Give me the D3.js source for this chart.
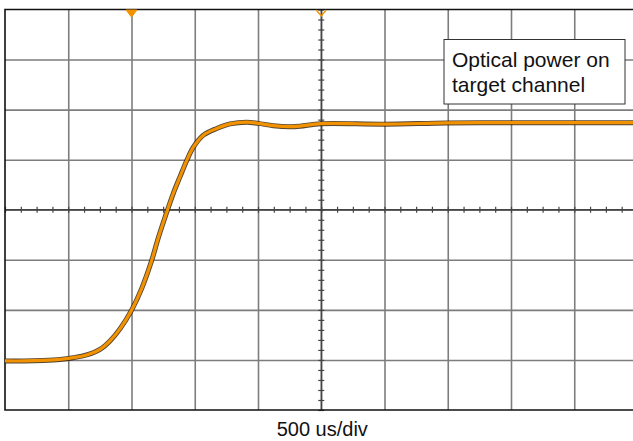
<!DOCTYPE html>
<html>
<head>
<meta charset="utf-8">
<script src="https://cdn.jsdelivr.net/npm/d3@7"></script>
<style>
body { margin: 0; background: #fff; }
svg { display: block; font-family: Arial, "Liberation Sans", sans-serif; }
</style>
</head>
<body>
<div id="chart"></div>
<script>
// trace, time in us, level in divisions from centre
const timeUs = [-2500, -2350, -2200, -2065, -1960, -1854, -1749, -1670, -1591, -1498, -1419,
    -1340, -1288, -1235, -1170, -1117, -1064, -1011, -932, -826, -721, -589, -498, -379,
    -247, -168, 0, 498, 996, 1500, 2000, 2500];
const level = [-3.02, -3.02, -3.01, -2.99, -2.955, -2.9, -2.79, -2.62, -2.38, -2.0, -1.57,
    -1.01, -0.56, -0.15, 0.324, 0.656, 0.98, 1.25, 1.49, 1.624, 1.715, 1.75, 1.725, 1.68,
    1.66, 1.67, 1.72, 1.71, 1.735, 1.74, 1.74, 1.74];

const timeDivs = [-2500, -2000, -1500, -1000, -500, 0, 500, 1000, 1500, 2000, 2500];
const levelDivs = [-4, -3, -2, -1, 0, 1, 2, 3, 4];
const triggerMarks = [{ t: -1500, filled: true }, { t: 0, filled: false }];
const legendLines = ["Optical power on", "target channel"];
const timebaseLabel = "500 us/div";

const svgWidth = 633;
const svgHeight = 441;
const margin = { left: 5, top: 9.5 };
const plotW = 632.5;
const plotH = 400.5;
const traceColor = "#f39200";

const svg = d3.select("#chart")
    .append("svg")
    .attr("width", svgWidth)
    .attr("height", svgHeight);

const g = svg.append("g")
    .attr("transform", `translate(${margin.left},${margin.top})`);

const x = d3.scaleLinear().domain([-2500, 2500]).range([0, plotW]);
const y = d3.scaleLinear().domain([-4, 4]).range([plotH, 0]);

// grid
g.append("g")
    .attr("class", "grid-x")
    .attr("transform", `translate(0,${plotH})`)
    .call(d3.axisBottom(x).tickValues(timeDivs.slice(1, -1)).tickSize(-plotH).tickFormat(""))
    .call(s => s.select(".domain").remove())
    .call(s => s.selectAll("line").attr("stroke", "#7d7d7d").attr("stroke-width", 1.6));

g.append("g")
    .attr("class", "grid-y")
    .call(d3.axisLeft(y).tickValues(levelDivs.slice(1, -1)).tickSize(-plotW).tickFormat(""))
    .call(s => s.select(".domain").remove())
    .call(s => s.selectAll("line").attr("stroke", "#7d7d7d").attr("stroke-width", 1.6));

// centre lines with minor ticks
const minorT = d3.range(-2500, 2501, 125);
const minorV = d3.range(-4, 4.001, 0.2);

g.append("line")
    .attr("x1", 0).attr("x2", plotW)
    .attr("y1", y(0)).attr("y2", y(0))
    .attr("stroke", "#444").attr("stroke-width", 1.4);
g.append("line")
    .attr("x1", x(0)).attr("x2", x(0))
    .attr("y1", 0).attr("y2", plotH)
    .attr("stroke", "#444").attr("stroke-width", 1.4);

[d3.axisTop, d3.axisBottom].forEach(ax => {
    g.append("g")
        .attr("transform", `translate(0,${y(0)})`)
        .call(ax(x).tickValues(minorT).tickSize(3).tickFormat(""))
        .call(s => s.select(".domain").remove())
        .call(s => s.selectAll("line").attr("stroke", "#444").attr("stroke-width", 1.2));
});
[d3.axisLeft, d3.axisRight].forEach(ax => {
    g.append("g")
        .attr("transform", `translate(${x(0)},0)`)
        .call(ax(y).tickValues(minorV).tickSize(3).tickFormat(""))
        .call(s => s.select(".domain").remove())
        .call(s => s.selectAll("line").attr("stroke", "#444").attr("stroke-width", 1.2));
});

// frame (right edge falls outside the window)
g.append("path")
    .attr("d", `M${plotW},0H0V${plotH}H${plotW}`)
    .attr("fill", "none")
    .attr("stroke", "#111")
    .attr("stroke-width", 1.6);

// trace
const pts = timeUs.map((t, i) => [t, level[i]]);
const line = d3.line()
    .x(d => x(d[0]))
    .y(d => y(d[1]))
    .curve(d3.curveCatmullRom.alpha(0.5));

g.append("path")
    .datum(pts)
    .attr("d", line)
    .attr("fill", "none")
    .attr("stroke", "#2b1800")
    .attr("stroke-width", 5)
    .attr("stroke-opacity", 0.8);

g.append("path")
    .datum(pts)
    .attr("d", line)
    .attr("fill", "none")
    .attr("stroke", traceColor)
    .attr("stroke-width", 3.2);

// trigger markers
g.selectAll(".mark")
    .data(triggerMarks)
    .enter().append("path")
    .attr("class", "mark")
    .attr("transform", d => `translate(${x(d.t)},0.5)`)
    .attr("d", d => d.filled ? "M-5.5,0L5.5,0L0,7Z" : "M-5,0L0,6L5,0")
    .attr("fill", d => d.filled ? traceColor : "none")
    .attr("stroke", traceColor)
    .attr("stroke-width", d => d.filled ? 1 : 1.4);

// legend box
const legend = svg.append("g").attr("transform", "translate(444,39.5)");
legend.append("rect")
    .attr("width", 181)
    .attr("height", 64.5)
    .attr("fill", "#fff")
    .attr("stroke", "#333")
    .attr("stroke-width", 1);
legend.selectAll("text")
    .data(legendLines)
    .enter().append("text")
    .attr("x", 8)
    .attr("y", (d, i) => 27.5 + i * 25)
    .attr("font-size", 21)
    .attr("fill", "#111")
    .text(d => d);

svg.append("text")
    .attr("x", margin.left + x(0) + 1)
    .attr("y", 436)
    .attr("text-anchor", "middle")
    .attr("font-size", 20)
    .attr("fill", "#111")
    .text(timebaseLabel);
</script>
</body>
</html>
